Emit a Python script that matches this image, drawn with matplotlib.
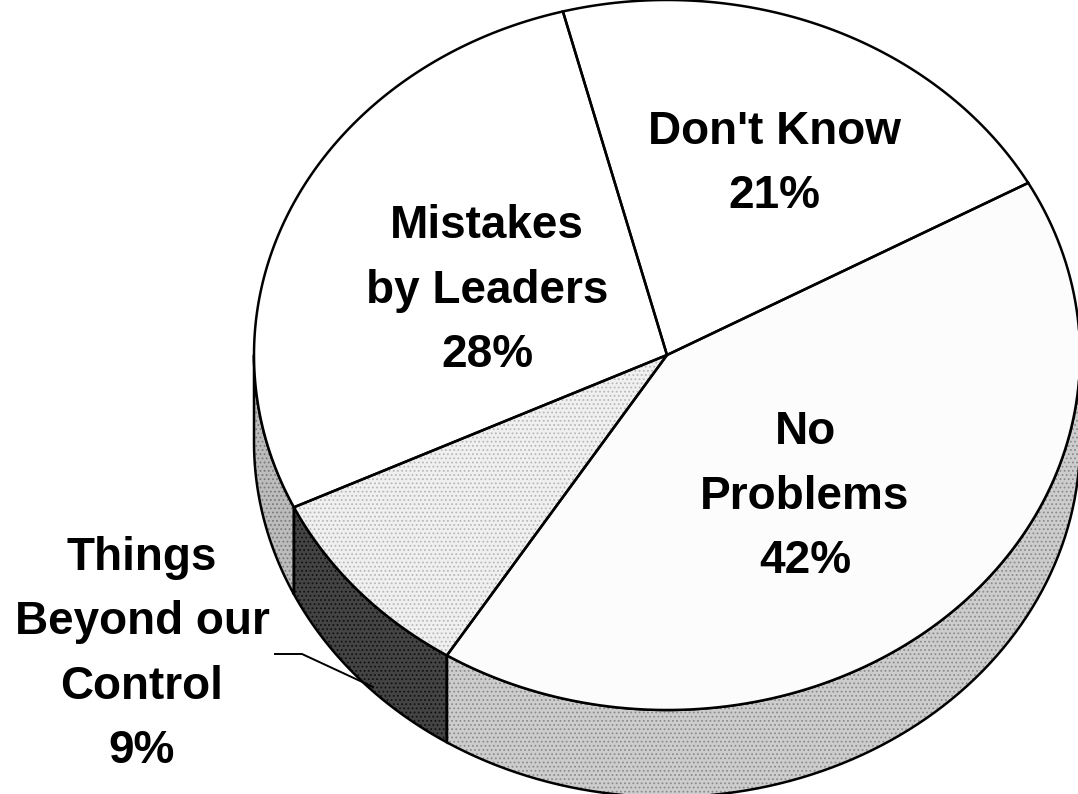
import numpy as np
import matplotlib.pyplot as plt
from matplotlib.patches import Polygon

# data
labels = ["Don't Know", "Mistakes\nby Leaders", "Things\nBeyond our\nControl", "No\nProblems"]
shares = [21, 28, 9, 42]
top_colors = ['#ffffff', '#ffffff', '#f0f0f0', '#fcfcfc']
top_dots = [None, None, '#b8b8b8', None]
side_colors = ['#d0d0d0', '#bcbcbc', '#444444', '#cdcdcd']
side_dots = ['#909090', '#7a7a7a', '#111111', '#8c8c8c']

# geometry in pixels (figure is 1078x794)
W, H = 1078, 794
cx, cy = 667, 355
rx, ry = 413, 355
depth = 87
start = 29.0

plt.rcParams['hatch.linewidth'] = 0.8

def pt(t_deg, drop=0.0):
    t = np.deg2rad(t_deg)
    return cx + rx * np.cos(t), cy - ry * np.sin(t) + drop

fig = plt.figure(figsize=(W / 100, H / 100), dpi=100)
ax = fig.add_axes([0, 0, 1, 1])
ax.set_xlim(0, W)
ax.set_ylim(H, 0)
ax.axis('off')

bounds = start + 3.6 * np.concatenate([[0], np.cumsum(shares)])

def shape(verts, face, dots, z):
    # fill (with optional stipple) then a black outline on top
    ax.add_patch(Polygon(verts, closed=True, facecolor=face,
                         edgecolor=dots if dots else face, lw=0,
                         hatch='....' if dots else None, zorder=z))
    ax.add_patch(Polygon(verts, closed=True, fill=False,
                         edgecolor='black', lw=1.8, zorder=z + 0.5))

# side walls (front half only)
for i in range(len(shares)):
    a0, a1 = bounds[i], bounds[i + 1]
    for lo, hi in [(180, 360), (540, 720)]:
        s0, s1 = max(a0, lo), min(a1, hi)
        if s1 <= s0:
            continue
        ts = np.linspace(s0, s1, 80)
        top = np.array([pt(t) for t in ts])
        bot = np.array([pt(t, depth) for t in ts[::-1]])
        shape(np.vstack([top, bot]), side_colors[i], side_dots[i], 1)

# top face
for i in range(len(shares)):
    ts = np.linspace(bounds[i], bounds[i + 1], 120)
    arc = np.array([pt(t) for t in ts])
    shape(np.vstack([[cx, cy], arc]), top_colors[i], top_dots[i], 2)

# labels, anchored at the baseline of the percentage line
font = dict(family='Liberation Sans', weight='bold', size=33,
            ha='center', va='baseline', linespacing=1.60, zorder=4)
pos = [(774, 208), (487, 367), (142, 763), (805, 573)]
for lab, s, (x, y) in zip(labels, shares, pos):
    ax.text(x, y, f"{lab}\n{s}%", **font)

# leader line for the small slice
mid = (bounds[2] + bounds[3]) / 2 + 3
ex, ey = pt(mid, depth * 0.95)
ax.plot([275, 302, ex], [654, 654, ey], color='black', lw=1.4, zorder=4)

fig.savefig('out.png', dpi=100, facecolor='white')
